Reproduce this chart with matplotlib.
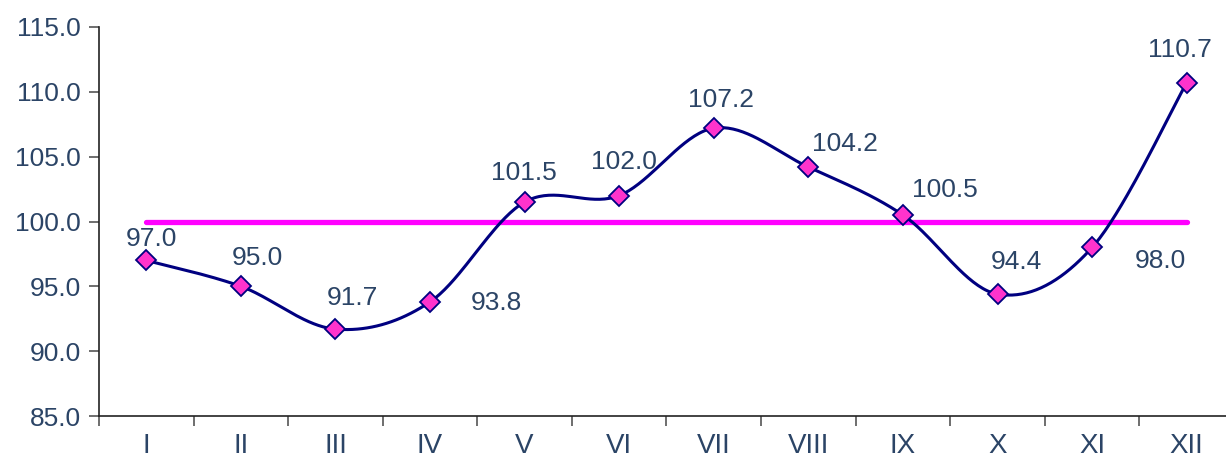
import numpy as np
import matplotlib
matplotlib.use("Agg")
import matplotlib.pyplot as plt

months = ["I", "II", "III", "IV", "V", "VI", "VII", "VIII", "IX", "X", "XI", "XII"]
values = [97.0, 95.0, 91.7, 93.8, 101.5, 102.0, 107.2, 104.2, 100.5, 94.4, 98.0, 110.7]
reference = 100.0
# label offsets in pixels (dx, dy) relative to each point
label_offsets = [(5, 21), (17, 28), (17, 31), (66, -1), (-1, 29), (5, 34),
                 (7, 28), (37, 23), (42, 25), (19, 32), (68, -14), (-7, 33)]

text_color = "#2B4466"
line_color = "#000080"
marker_face = "#FF33CC"

plt.rcParams['font.family'] = ['Liberation Sans', 'DejaVu Sans']

W, H = 1226, 458
fig = plt.figure(figsize=(W / 100, H / 100), dpi=100)
ax = fig.add_axes([99 / W, 42 / H, 1 - 99 / W, (416 - 27) / H])

x = np.arange(len(values))
y = np.array(values)

# Catmull-Rom smooth curve (Excel-like smoothing) via cubic Bezier segments
P = np.column_stack([x, y]).astype(float)
Pext = np.vstack([P[0], P, P[-1]])
curve = []
t = np.linspace(0, 1, 40)
for i in range(len(P) - 1):
    p0, p1, p2, p3 = Pext[i], Pext[i + 1], Pext[i + 2], Pext[i + 3]
    c1 = p1 + (p2 - p0) / 6
    c2 = p2 - (p3 - p1) / 6
    seg = ((1 - t) ** 3)[:, None] * p1 + (3 * (1 - t) ** 2 * t)[:, None] * c1 \
        + (3 * (1 - t) * t ** 2)[:, None] * c2 + (t ** 3)[:, None] * p2
    curve.append(seg if i == 0 else seg[1:])
curve = np.vstack(curve)

ax.plot([x[0], x[-1]], [reference, reference], color="#FF00FF", lw=3.8,
        solid_capstyle="round", zorder=2)
ax.plot(curve[:, 0], curve[:, 1], color=line_color, lw=2.2, zorder=3)
ax.plot(x, y, linestyle="none", marker="D", markersize=10.5,
        markerfacecolor=marker_face, markeredgecolor=line_color,
        markeredgewidth=1.3, zorder=4)

for xi, yi, (dx, dy) in zip(x, y, label_offsets):
    ax.annotate(f"{yi:.1f}", (xi, yi), xytext=(dx * 0.72, dy * 0.72),
                textcoords="offset points", ha="center", va="center",
                fontsize=19, color=text_color, zorder=5)

ax.set_yticks(np.arange(85, 115.1, 5))
ax.set_yticklabels([f"{v:.1f}" for v in np.arange(85, 115.1, 5)])
ax.set_xticks(x)
ax.set_xticklabels(months)
ax.set_xticks(np.arange(-0.5, 11.6, 1), minor=True)
ax.set_ylim(85, 115)
ax.set_xlim(-0.5, 11.5 - 8 / 94.6)
ax.tick_params(axis="x", which="major", length=0, pad=12, labelsize=20,
               labelcolor=text_color)
ax.tick_params(axis="x", which="minor", length=7, width=1.2, color="#555555")
ax.tick_params(axis="y", length=7, width=1.2, color="#555555", pad=6,
               labelsize=19, labelcolor=text_color)
for s in ["top", "right"]:
    ax.spines[s].set_visible(False)
for s in ["left", "bottom"]:
    ax.spines[s].set_linewidth(1.2)
    ax.spines[s].set_color("#222222")

fig.savefig("out.png", dpi=100)
